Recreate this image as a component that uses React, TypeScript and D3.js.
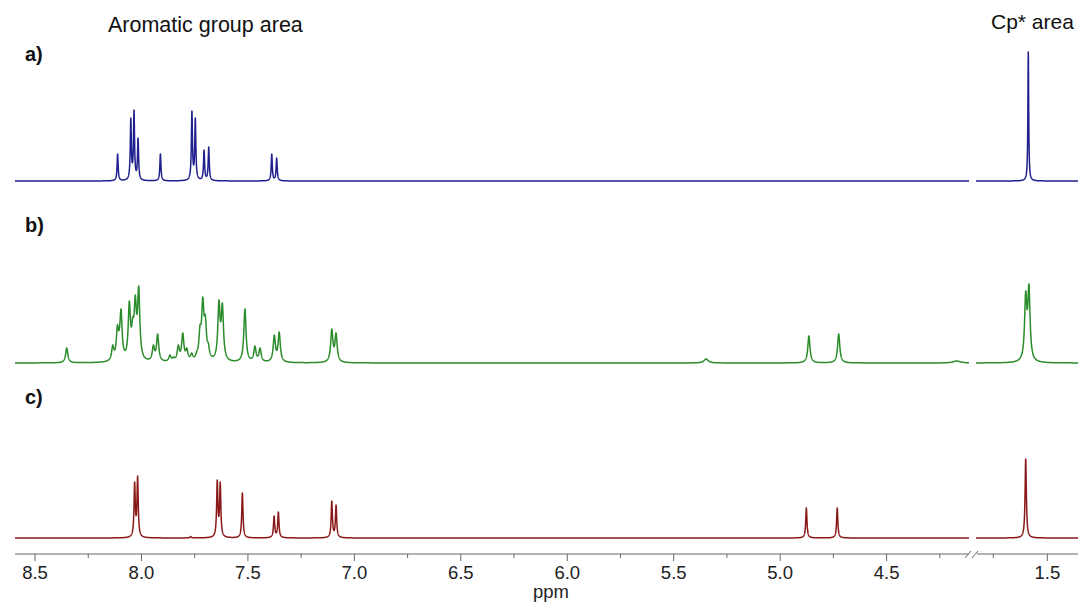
import React from 'react';
import * as d3 from 'd3';

// peak lists: [shift in ppm, intensity, optional half width]
const peaksA: number[][] = [
  [8.112, 27], [8.050, 63], [8.035, 71], [8.016, 43], [7.911, 27],
  [7.763, 70], [7.747, 63], [7.706, 31], [7.684, 34], [7.388, 27], [7.365, 23],
  [1.588, 129, 0.0022]
];

const peaksB: number[][] = [
  [8.351, 15], [8.135, 18], [8.113, 38], [8.104, 34], [8.096, 54],
  [8.057, 62], [8.041, 46], [8.029, 68], [8.013, 77],
  [7.944, 18], [7.924, 29], [7.866, 8], [7.849, 6], [7.827, 18], [7.806, 30],
  [7.787, 15], [7.764, 10], [7.740, 12], [7.725, 38], [7.712, 66], [7.700, 48],
  [7.686, 20], [7.636, 63], [7.620, 60], [7.514, 54], [7.467, 17], [7.443, 15],
  [7.376, 28], [7.353, 31], [7.106, 34], [7.086, 30],
  [7.82, 4, 0.06], [5.348, 4, 0.012], [4.865, 27], [4.725, 29], [4.171, 2, 0.02],
  [1.600, 72], [1.585, 79]
];

const peaksC: number[][] = [
  [8.032, 56], [8.018, 62], [7.769, 1.5], [7.644, 58], [7.630, 56], [7.526, 45],
  [7.377, 22], [7.357, 26], [7.106, 37], [7.086, 33], [4.877, 30], [4.732, 30],
  [1.600, 79]
];

const majorTicksLeft = [8.5, 8.0, 7.5, 7.0, 6.5, 6.0, 5.5, 5.0, 4.5];
const minorTicksLeft = [8.25, 7.75, 7.25, 6.75, 6.25, 5.75, 5.25, 4.75, 4.25];
const majorTicksRight = [1.5];
const minorTicksRight = [1.75];

const W = 1078;
const H = 604;
const font = '"Liberation Sans", Arial, sans-serif';

const xL = d3.scaleLinear().domain([8.594, 4.113]).range([15, 969]);
const xR = d3.scaleLinear().domain([1.83, 1.358]).range([976, 1078]);
const axisY = 554;

const lor = (d: number, w: number) => 1 / (1 + (d / w) * (d / w));

// find amplitudes so the summed curve hits the read heights at each centre
function amplitudes(peaks: number[][], w: number) {
  const amps = peaks.map(p => p[1]);
  for (let it = 0; it < 80; it++) {
    for (let i = 0; i < peaks.length; i++) {
      let other = 0;
      for (let j = 0; j < peaks.length; j++) {
        if (j !== i) other += amps[j] * lor(peaks[i][0] - peaks[j][0], peaks[j][2] || w);
      }
      amps[i] = Math.max(0, peaks[i][1] - other);
    }
  }
  return amps;
}

function trace(peaks: number[][], w: number, from: number, to: number) {
  const amps = amplitudes(peaks, w);
  const pts: [number, number][] = [];
  const step = 0.0005;
  for (let s = from; s >= to - 1e-9; s -= step) {
    let v = 0;
    for (let j = 0; j < peaks.length; j++) v += amps[j] * lor(s - peaks[j][0], peaks[j][2] || w);
    pts.push([s, v]);
  }
  return pts;
}

const spectra = [
  { label: 'a)', peaks: peaksA, w: 0.003, color: '#1f1f8e', base: 181, labelY: 61 },
  { label: 'b)', peaks: peaksB, w: 0.0062, color: '#2a8c2a', base: 363, labelY: 232 },
  { label: 'c)', peaks: peaksC, w: 0.0035, color: '#8a1a1a', base: 538, labelY: 404 }
];

function Spectrum({ s }: { s: typeof spectra[0] }) {
  const y = d3.scaleLinear().domain([0, 130]).range([s.base, s.base - 130]);
  const left = trace(s.peaks, s.w, 8.594, 4.113);
  const right = trace(s.peaks, s.w, 1.83, 1.358);
  const lineL = d3.line<[number, number]>().x(d => xL(d[0])).y(d => y(d[1]));
  const lineR = d3.line<[number, number]>().x(d => xR(d[0])).y(d => y(d[1]));
  return (
    <g>
      <text x={25} y={s.labelY} fontFamily={font} fontSize={20} fontWeight="bold" fill="#111">{s.label}</text>
      <path d={lineL(left) || ''} fill="none" stroke={s.color} strokeWidth={1.5} strokeLinejoin="round" />
      <path d={lineR(right) || ''} fill="none" stroke={s.color} strokeWidth={1.5} strokeLinejoin="round" />
    </g>
  );
}

function Axis() {
  const axisColor = '#666';
  return (
    <g>
      <line x1={15} x2={969} y1={axisY} y2={axisY} stroke={axisColor} />
      <line x1={977} x2={W} y1={axisY} y2={axisY} stroke={axisColor} />
      <line x1={965} y1={558} x2={971} y2={551} stroke={axisColor} />
      <line x1={972} y1={558} x2={978} y2={551} stroke={axisColor} />
      {minorTicksLeft.map(t => (
        <line key={'mL' + t} x1={xL(t)} x2={xL(t)} y1={axisY} y2={axisY + 4} stroke={axisColor} />
      ))}
      {minorTicksRight.map(t => (
        <line key={'mR' + t} x1={xR(t)} x2={xR(t)} y1={axisY} y2={axisY + 4} stroke={axisColor} />
      ))}
      {majorTicksLeft.map(t => (
        <g key={'L' + t}>
          <line x1={xL(t)} x2={xL(t)} y1={axisY} y2={axisY + 7} stroke={axisColor} />
          <text x={xL(t)} y={579} textAnchor="middle" fontFamily={font} fontSize={18.5} fill="#222">{t.toFixed(1)}</text>
        </g>
      ))}
      {majorTicksRight.map(t => (
        <g key={'R' + t}>
          <line x1={xR(t)} x2={xR(t)} y1={axisY} y2={axisY + 7} stroke={axisColor} />
          <text x={xR(t)} y={579} textAnchor="middle" fontFamily={font} fontSize={18.5} fill="#222">{t.toFixed(1)}</text>
        </g>
      ))}
      <text x={551} y={598} textAnchor="middle" fontFamily={font} fontSize={18.5} fill="#222">ppm</text>
    </g>
  );
}

export default function App() {
  return (
    <svg width={W} height={H} style={{ position: 'absolute', left: 0, top: 0, background: '#fff' }}>
      <text x={108} y={32} fontFamily={font} fontSize={21.5} fill="#111">Aromatic group area</text>
      <text x={991} y={29} fontFamily={font} fontSize={21} fill="#111">Cp* area</text>
      {spectra.map(s => <Spectrum key={s.label} s={s} />)}
      <Axis />
    </svg>
  );
}
